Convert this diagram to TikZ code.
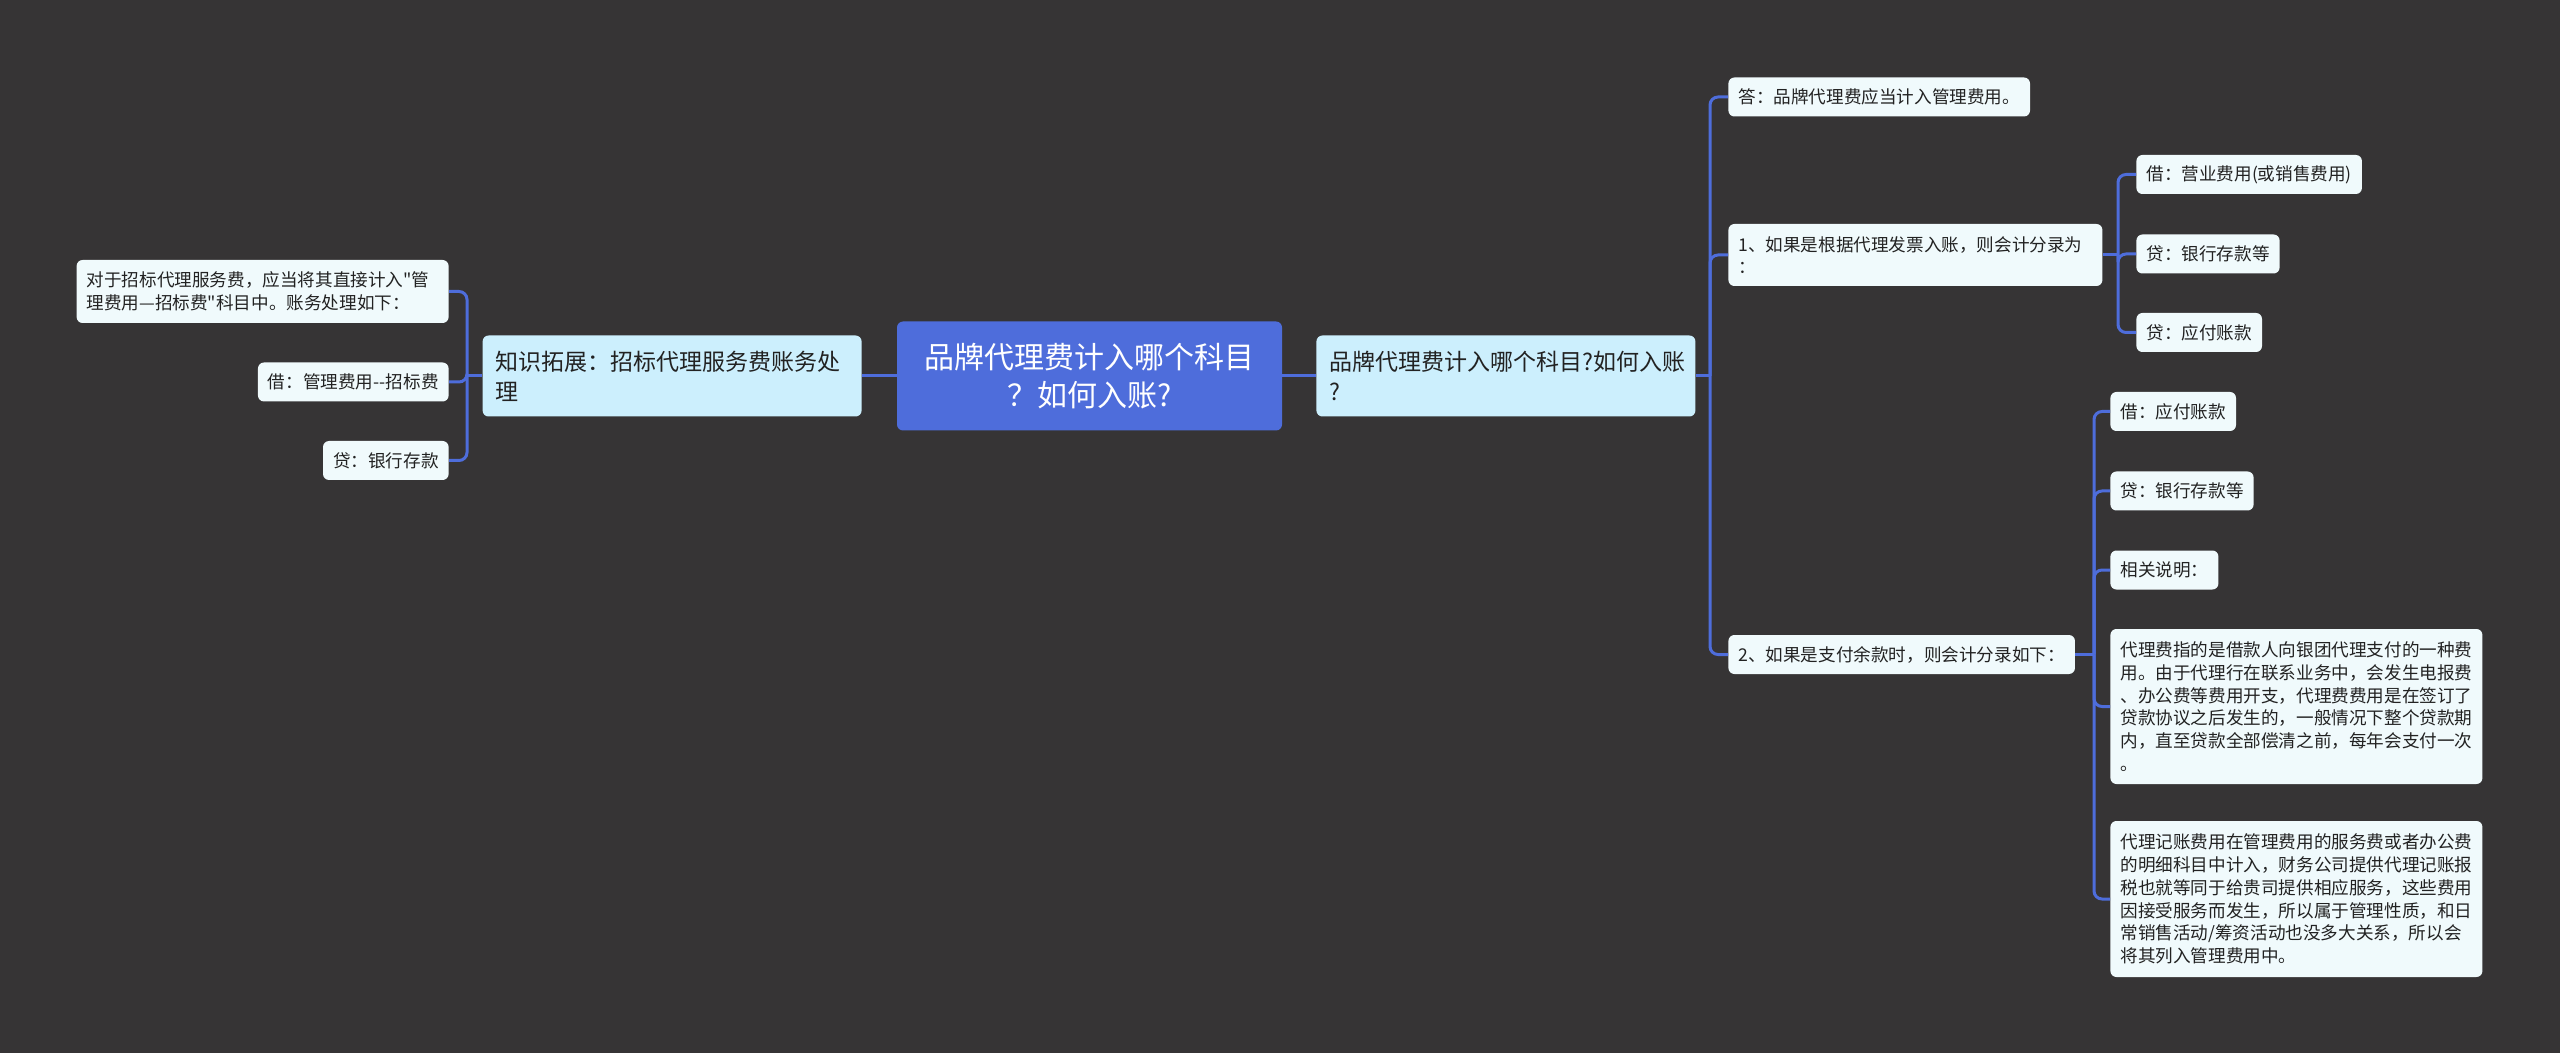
\documentclass[tikz,border=0pt]{standalone}
\usepackage{fontspec}
\setmainfont{Noto Sans CJK SC}[Ligatures=TeXOff]
\usepackage{xcolor}
\usepackage{tikz}
\usetikzlibrary{positioning}
\definecolor{canvas}{HTML}{363435}
\definecolor{primary}{HTML}{4E6DDB}
\definecolor{topicbg}{HTML}{CCEFFD}
\definecolor{leafbg}{HTML}{F0FAFC}
\definecolor{inkdark}{HTML}{222222}

\begin{document}
\begin{tikzpicture}[
    x=0.5pt, y=-0.5pt,
    root/.style={rectangle, rounded corners=3pt, fill=primary, text=white, minimum width=192.5pt, minimum height=54.5pt, align=center, font=\fontsize{15}{19}\selectfont},
    topic/.style={rectangle, rounded corners=3pt, fill=topicbg, text=inkdark, text width=176.5pt, inner xsep=6.5pt, minimum height=40.5pt, align=left, font=\fontsize{11.5}{15}\selectfont},
    leaf/.style={rectangle, rounded corners=3pt, fill=leafbg, text=inkdark, inner xsep=5pt, inner ysep=2pt, minimum height=19.5pt, align=left, font=\fontsize{8.8}{11.35}\selectfont},
    link/.style={line width=1.5pt, primary},
    elbow/.style={link, rounded corners=4pt}
  ]

    \fill[canvas] (0,0) rectangle (2560,1053);
    \useasboundingbox (0,0) rectangle (2560,1053);

    % centre and the two topics
    \node[root] (root) at (1089.5,376) {品牌代理费计入哪个科目\\？如何入账?};
    \node[topic, anchor=east] (know) at (862,376) {知识拓展：招标代理服务费账务处\\理};
    \node[topic, anchor=west] (main) at (1316,376) {品牌代理费计入哪个科目?如何入账\\?};

    % left branch
    \node[leaf, anchor=east, text width=176pt, minimum height=31.5pt] (kdesc) at (449,291.5) {对于招标代理服务费，应当将其直接计入"管\\理费用—招标费"科目中。账务处理如下：};
    \node[leaf, anchor=east] (kdebit) at (449,382) {借：管理费用--招标费};
    \node[leaf, anchor=east] (kcredit) at (449,460.5) {贷：银行存款};

    % right branch
    \node[leaf, anchor=west] (answer) at (1728,97) {答：品牌代理费应当计入管理费用。};
    \node[leaf, anchor=west, text width=177pt, minimum height=31pt] (caseone) at (1728,255) {1、如果是根据代理发票入账，则会计分录为\\：};
    \node[leaf, anchor=west] (casetwo) at (1728,654.5) {2、如果是支付余款时，则会计分录如下：};

    \node[leaf, anchor=west] (onedebit) at (2136,174.5) {借：营业费用(或销售费用)};
    \node[leaf, anchor=west] (onebank) at (2136,254) {贷：银行存款等};
    \node[leaf, anchor=west] (onepay) at (2136,332.5) {贷：应付账款};

    \node[leaf, anchor=west] (twodebit) at (2110,411.5) {借：应付账款};
    \node[leaf, anchor=west] (twobank) at (2110,491) {贷：银行存款等};
    \node[leaf, anchor=west] (twonote) at (2110,570) {相关说明：};
    \node[leaf, anchor=west, minimum height=77.5pt] (feetext) at (2110,706.5) {代理费指的是借款人向银团代理支付的一种费\\用。由于代理行在联系业务中，会发生电报费\\、办公费等费用开支，代理费费用是在签订了\\贷款协议之后发生的，一般情况下整个贷款期\\内，直至贷款全部偿清之前，每年会支付一次\\。};
    \node[leaf, anchor=west, minimum height=78pt] (booktext) at (2110,899) {代理记账费用在管理费用的服务费或者办公费\\的明细科目中计入，财务公司提供代理记账报\\税也就等同于给贵司提供相应服务，这些费用\\因接受服务而发生，所以属于管理性质，和日\\常销售活动/筹资活动也没多大关系，所以会\\将其列入管理费用中。};

    % junctions
    \coordinate (kjoin) at (467,376);
    \coordinate (mjoin) at (1710,376);
    \coordinate (onejoin) at (2118,255);
    \coordinate (twojoin) at (2094,654.5);

    \draw[link] (root.west) -- (know.east);
    \draw[link] (root.east) -- (main.west);

    \draw[link] (know.west) -- (kjoin);
    \draw[elbow] (kjoin) |- (kdesc.east);
    \draw[elbow] (kjoin) |- (kdebit.east);
    \draw[elbow] (kjoin) |- (kcredit.east);

    \draw[link] (main.east) -- (mjoin);
    \draw[elbow] (mjoin) |- (answer.west);
    \draw[elbow] (mjoin) |- (caseone.west);
    \draw[elbow] (mjoin) |- (casetwo.west);

    \draw[link] (caseone.east) -- (onejoin);
    \draw[elbow] (onejoin) |- (onedebit.west);
    \draw[elbow] (onejoin) |- (onebank.west);
    \draw[elbow] (onejoin) |- (onepay.west);

    \draw[link] (casetwo.east) -- (twojoin);
    \draw[elbow] (twojoin) |- (twodebit.west);
    \draw[elbow] (twojoin) |- (twobank.west);
    \draw[elbow] (twojoin) |- (twonote.west);
    \draw[elbow] (twojoin) |- (feetext.west);
    \draw[elbow] (twojoin) |- (booktext.west);

  \end{tikzpicture}
\end{document}
